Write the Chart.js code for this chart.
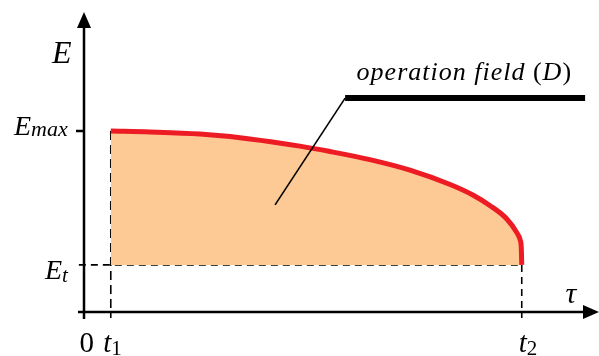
<!DOCTYPE html>
<html>
<head>
<meta charset="utf-8">
<title>Operation field</title>
<script src="https://cdn.jsdelivr.net/npm/chart.js@4.4.1/dist/chart.umd.min.js"></script>
<style>
  html, body { margin: 0; padding: 0; background: #fff; }
  #wrap { position: relative; width: 599px; height: 356px; overflow: hidden; }
  #labels { position: absolute; left: 0; top: 0; width: 599px; height: 356px; pointer-events: none; }
  .lbl { position: absolute; white-space: nowrap; line-height: 1; color: #000;
         font-family: 'Liberation Serif', 'Times New Roman', serif; }
  .lbl i, .lbl span { position: relative; }
  .lbl .base { display: inline-block; width: 0; height: 0; vertical-align: baseline; }
</style>
</head>
<body>
<div id="wrap">
  <canvas id="chart" width="599" height="356"></canvas>
  <div id="labels"></div>
</div>
<script>
// axis ranges (arbitrary units, the figure has no numeric scale)
const tauMax = 10;
const eMax = 10;

// characteristic values
const t1 = 0.52;
const t2 = 8.5;
const Emax = 6.03;
const Et = 1.57;

// boundary curve E(tau)
const curveTau = [0.52, 1.28, 2.25, 3.22, 4.19, 4.78, 5.55, 6.33, 7.11, 7.55, 7.88, 8.21, 8.41, 8.47, 8.49, 8.50];
const curveE = [6.03, 6.00, 5.93, 5.77, 5.53, 5.35, 5.08, 4.73, 4.25, 3.90, 3.55, 3.10, 2.63, 2.40, 2.17, 1.57];

// label leader: thin slanted part, then the thick shelf
const leaderTau = [3.71, 5.07, 9.73];
const leaderE = [3.57, 7.13, 7.13];

const red = '#ed1c24';
const peach = '#fdca96';

const pts = (xs, ys) => xs.map((v, i) => ({ x: v, y: ys[i] }));
const layer = document.getElementById('labels');

// one label as real text; (x, y) is the baseline anchor, align is 'left' | 'center' | 'right'
function placeLabel(html, x, y, align, size, spacing) {
  const div = document.createElement('div');
  div.className = 'lbl';
  div.style.fontSize = size + 'px';
  if (spacing) div.style.letterSpacing = spacing + 'px';
  div.innerHTML = html + '<span class="base"></span>';
  layer.appendChild(div);
  const baseline = div.querySelector('.base').offsetTop;
  const shift = align === 'right' ? div.offsetWidth : align === 'center' ? div.offsetWidth / 2 : 0;
  div.style.left = (x - shift) + 'px';
  div.style.top = (y - baseline) + 'px';
}

function drawLabels(chart) {
  const { x, y } = chart.scales;
  layer.innerHTML = '';
  const x0 = x.getPixelForValue(0);
  const y0 = y.getPixelForValue(0);
  const yMaxPx = y.getPixelForValue(Emax);
  const yTPx = y.getPixelForValue(Et);

  placeLabel('<i>E</i>', x0 - 12, y.getPixelForValue(8.3), 'right', 32);
  placeLabel('<i>τ</i>', x.getPixelForValue(tauMax) - 28, y0 - 9, 'center', 30);

  placeLabel('<i>E</i><i style="font-size:22px;top:1px">max</i>', x0 - 16, yMaxPx + 4, 'right', 28);
  placeLabel('<i>E</i><i style="font-size:21px;top:3px">t</i>', x0 - 16, yTPx + 14, 'right', 28);
  placeLabel('0', x0 + 3, y0 + 40, 'center', 29);
  placeLabel('<i>t</i><span style="font-size:21px;top:3px">1</span>', x.getPixelForValue(t1) + 2, y0 + 40, 'center', 29);
  placeLabel('<i>t</i><span style="font-size:21px;top:3px">2</span>', x.getPixelForValue(t2) - 3, y0 + 40, 'left', 29);

  const shelfL = x.getPixelForValue(leaderTau[1]);
  const shelfR = x.getPixelForValue(leaderTau[2]);
  placeLabel('<i>operation field</i> (<i>D</i>)', (shelfL + shelfR) / 2 - 1, y.getPixelForValue(leaderE[1]) - 18, 'center', 26, 1);
}

const sketchAxes = {
  id: 'sketchAxes',
  afterDraw(chart) {
    const { ctx, scales: { x, y } } = chart;
    const x0 = x.getPixelForValue(0);
    const y0 = y.getPixelForValue(0);
    const xEnd = x.getPixelForValue(tauMax);
    const yEnd = y.getPixelForValue(eMax);
    const yMaxPx = y.getPixelForValue(Emax);

    ctx.save();
    ctx.strokeStyle = '#000';
    ctx.fillStyle = '#000';
    ctx.lineWidth = 2.5;
    ctx.setLineDash([]);
    ctx.beginPath();
    ctx.moveTo(x0 - 6, y0);
    ctx.lineTo(xEnd - 12, y0);
    ctx.moveTo(x0, y0 + 7);
    ctx.lineTo(x0, yEnd + 12);
    ctx.moveTo(x0 - 8, yMaxPx);
    ctx.lineTo(x0, yMaxPx);
    ctx.stroke();

    // arrowheads
    ctx.beginPath();
    ctx.moveTo(xEnd, y0);
    ctx.lineTo(xEnd - 16, y0 - 7);
    ctx.lineTo(xEnd - 16, y0 + 7);
    ctx.closePath();
    ctx.fill();
    ctx.beginPath();
    ctx.moveTo(x0, yEnd);
    ctx.lineTo(x0 - 7, yEnd + 16);
    ctx.lineTo(x0 + 7, yEnd + 16);
    ctx.closePath();
    ctx.fill();
    ctx.restore();

    drawLabels(chart);
  }
};

new Chart(document.getElementById('chart'), {
  type: 'scatter',
  data: {
    datasets: [
      {
        // operation field D and its upper boundary
        data: pts(curveTau, curveE),
        showLine: true,
        borderColor: red,
        borderWidth: 5,
        backgroundColor: peach,
        fill: { value: Et },
        cubicInterpolationMode: 'monotone',
        pointRadius: 0,
        order: 5
      },
      {
        data: pts([-0.1, t2], [Et, Et]),
        showLine: true,
        borderColor: '#000',
        borderWidth: 1.6,
        borderDash: [7, 5],
        pointRadius: 0,
        clip: false,
        order: 6
      },
      {
        data: pts([t1, t1], [Emax, -0.2]),
        showLine: true,
        borderColor: '#000',
        borderWidth: 1.6,
        borderDash: [9, 5],
        pointRadius: 0,
        clip: false,
        order: 6
      },
      {
        data: pts([t2, t2], [Et, -0.2]),
        showLine: true,
        borderColor: '#000',
        borderWidth: 1.6,
        borderDash: [7, 5],
        pointRadius: 0,
        clip: false,
        order: 6
      },
      {
        data: pts(leaderTau.slice(0, 2), leaderE.slice(0, 2)),
        showLine: true,
        borderColor: '#000',
        borderWidth: 1.6,
        pointRadius: 0,
        order: 1
      },
      {
        data: pts(leaderTau.slice(1), leaderE.slice(1)),
        showLine: true,
        borderColor: '#000',
        borderWidth: 6,
        borderCapStyle: 'butt',
        pointRadius: 0,
        order: 1
      }
    ]
  },
  options: {
    responsive: false,
    animation: false,
    devicePixelRatio: 1,
    layout: { padding: { left: 84, right: 0, top: 12, bottom: 44 } },
    plugins: { legend: { display: false }, tooltip: { enabled: false } },
    scales: {
      x: { type: 'linear', min: 0, max: tauMax, display: false },
      y: { type: 'linear', min: 0, max: eMax, display: false }
    }
  },
  plugins: [sketchAxes]
});
</script>
</body>
</html>
